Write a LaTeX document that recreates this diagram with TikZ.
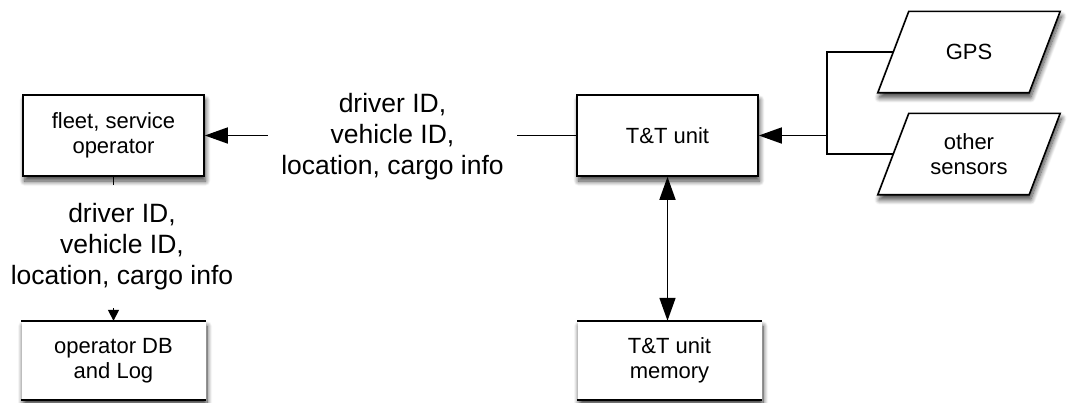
\documentclass[tikz,border=0pt]{standalone}
\usepackage{fontspec}
\setmainfont{Liberation Sans}
\usetikzlibrary{arrows.meta,shadows.blur}

\begin{document}
\begin{tikzpicture}[x=1pt,y=1pt,
  boxshadow/.style={blur shadow={shadow xshift=1.5pt,shadow yshift=-5pt,
      shadow blur radius=5pt,shadow blur steps=12,shadow opacity=75}},
  boxfont/.style={font=\fontsize{22}{25.5}\selectfont},
  box/.style={draw,line width=1.6pt,fill=white,minimum width=181pt,
      minimum height=81pt,align=center,boxfont,boxshadow},
  store/.style={fill=white,minimum width=184pt,minimum height=79pt,
      align=center,boxfont,boxshadow},
  sensortext/.style={minimum width=151pt,minimum height=81pt,align=center,boxfont},
  sensoredge/.style={draw,line width=1.6pt,fill=white,boxshadow},
  flow/.style={font=\fontsize{26.5}{31}\selectfont,align=center,
      text opacity=1,inner sep=0pt},
  link/.style={line width=1.6pt,draw=black,draw opacity=1,fill opacity=1},
  bigtip/.style={-{Triangle[length=23pt,width=16pt]}},
  bothtips/.style={{Triangle[length=23pt,width=16pt]}-{Triangle[length=23pt,width=16pt]}},
  smalltip/.style={-{Triangle[length=11pt,width=11pt]}},
]
\useasboundingbox (0,0) rectangle (1069,-402);

% units and stores
\node[box] (fleet) at (113.5,-135.5) {fleet, service\\operator};
\node[box] (tt) at (667.5,-135.5) {T\&T unit};
\node[store] (db) at (113.5,-360.5) {operator DB\\and Log};
\node[store] (mem) at (669.5,-360.5) {T\&T unit\\memory};

% sensors: slanted input boxes drawn round their text nodes
\path (969,-52) node[sensortext] (gps) {};
\path (969,-154) node[sensortext] (oth) {};
\begin{scope}
  \foreach \s in {gps,oth}
    \draw[sensoredge] ([xshift=-15.5pt]\s.south west) -- ([xshift=15.5pt]\s.north west)
      -- ([xshift=15.5pt]\s.north east) -- ([xshift=-15.5pt]\s.south east) -- cycle;
\end{scope}
\node[boxfont,align=center,text opacity=1] at (gps) {GPS};
\node[boxfont,align=center,text opacity=1] at (oth) {other\\sensors};

% flow labels (the connectors stop short of them)
\node[flow,minimum width=249pt] (lbltop) at (392.5,-137) {driver ID,\\vehicle ID,\\location, cargo info};
\node[flow,minimum height=123pt] (lblleft) at (122,-246.5) {driver ID,\\vehicle ID,\\location, cargo info};

% data store borders: top and bottom only
\draw[link] (db.north west) -- (db.north east);
\draw[link] (db.south west) -- (db.south east);
\draw[link] (mem.north west) -- (mem.north east);
\draw[link] (mem.south west) -- (mem.south east);

% sensor bus into the T&T unit
\coordinate (bus) at (827,-135.5);
\draw[link] (gps.west) -| (bus) |- (oth.west);
\draw[link,bigtip] (bus) -- (tt.east);

% T&T unit <-> memory
\draw[link,bothtips] (tt.south) -- (tt.south |- mem.north);

% reports to the operator and its log
\draw[link] (tt.west) -- (tt.west -| lbltop.east);
\draw[link,bigtip] (lbltop.west |- fleet.east) -- (fleet.east);
\draw[link] (fleet.south) -- (fleet.south |- lblleft.north);
\draw[link,smalltip] (fleet.south |- lblleft.south) -- (db.north);
\end{tikzpicture}
\end{document}
